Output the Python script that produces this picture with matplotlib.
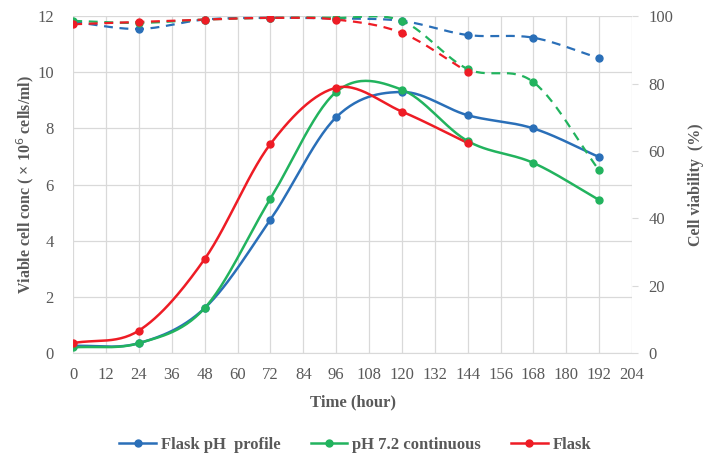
import numpy as np
import matplotlib
matplotlib.use("Agg")
import matplotlib.pyplot as plt
from matplotlib.lines import Line2D

plt.rcParams['font.family'] = ['Liberation Serif', 'DejaVu Serif']

hours = [0, 24, 48, 72, 96, 120, 144, 168, 192]
hours_flask = [0, 24, 48, 72, 96, 120, 144]

# viable cell concentration (x10^6 cells/ml)
vcc_ph_profile = [0.25, 0.35, 1.6, 4.75, 8.4, 9.3, 8.47, 8.0, 6.98]
vcc_ph72 = [0.2, 0.35, 1.6, 5.5, 9.3, 9.38, 7.55, 6.77, 5.45]
vcc_flask = [0.35, 0.8, 3.35, 7.45, 9.45, 8.6, 7.48]

# cell viability (%)
via_ph_profile = [98.3, 96.2, 99.0, 99.5, 99.3, 98.6, 94.4, 93.6, 87.5]
via_ph72 = [98.6, 98.0, 99.0, 99.5, 99.5, 98.6, 84.3, 80.4, 54.2]
via_flask = [97.6, 98.3, 99.0, 99.5, 99.0, 95.0, 83.4]

series_names = ['Flask pH  profile', 'pH 7.2 continuous', 'Flask']
colors = ['#2a6fb8', '#22b35e', '#ee1c25']


def smooth(x, y, n=30):
    # Catmull-Rom curve through the points, like the spreadsheet "smoothed line"
    p = np.column_stack([x, y]).astype(float)
    p = np.vstack([p[0] - (p[1] - p[0]), p, p[-1] + (p[-1] - p[-2])])
    out = []
    t = np.linspace(0, 1, n)[:, None]
    for i in range(1, len(p) - 2):
        p0, p1, p2, p3 = p[i - 1], p[i], p[i + 1], p[i + 2]
        m1 = (p2 - p0) / 2
        m2 = (p3 - p1) / 2
        h00 = 2 * t**3 - 3 * t**2 + 1
        h10 = t**3 - 2 * t**2 + t
        h01 = -2 * t**3 + 3 * t**2
        h11 = t**3 - t**2
        out.append(h00 * p1 + h10 * m1 + h01 * p2 + h11 * m2)
    c = np.vstack(out)
    return c[:, 0], c[:, 1]


fig = plt.figure(figsize=(7.11, 4.62), dpi=100)
ax = fig.add_axes([0.103, 0.236, 0.786, 0.729])
ax2 = ax.twinx()

tc = '#595959'
grid_c = '#d9d9d9'

for xs, vcc, via, col in [(hours, vcc_ph_profile, via_ph_profile, colors[0]),
                          (hours, vcc_ph72, via_ph72, colors[1]),
                          (hours_flask, vcc_flask, via_flask, colors[2])]:
    sx, sy = smooth(xs, vcc)
    ax.plot(sx, sy, color=col, lw=1.8, zorder=3)
    ax.plot(xs, vcc, 'o', color=col, ms=5, mec=col, zorder=4)
    sx, sy = smooth(xs, via)
    ax2.plot(sx, sy, color=col, lw=1.6, ls=(0, (4, 3)), zorder=3)
    ax2.plot(xs, via, 'o', color=col, ms=5, zorder=4)

ax.set_xlim(0, 204)
ax.set_ylim(0, 12)
ax2.set_ylim(0, 100)
ax.set_xticks(np.arange(0, 205, 12))
ax.set_yticks(np.arange(0, 13, 2))
ax2.set_yticks(np.arange(0, 101, 20))

ax.grid(True, color=grid_c, lw=0.9)
ax.set_axisbelow(True)
for a in (ax, ax2):
    for s in a.spines.values():
        s.set_visible(False)
ax.spines['bottom'].set_visible(True)
ax.spines['bottom'].set_color(grid_c)

ax.tick_params(axis='x', length=0, labelsize=12, labelcolor=tc, pad=10)
ax.tick_params(axis='y', length=0, labelsize=12, labelcolor=tc, pad=14)
ax2.tick_params(axis='y', length=4, color=grid_c, labelsize=12, labelcolor=tc, pad=8)

ax.set_xlabel('Time (hour)', fontsize=12, fontweight='bold', color=tc, labelpad=8)
ax.set_ylabel('Viable cell conc ( \u00d7 10$^6$ cells/ml)', fontsize=11.5,
              fontweight='bold', color=tc, labelpad=1)
ax2.set_ylabel('Cell viability  (%)', fontsize=11.5, fontweight='bold', color=tc,
               rotation=90, labelpad=10)

handles = [Line2D([0], [0], color=c, lw=1.8, marker='o', ms=5) for c in colors]
fig.legend(handles, series_names, loc='center', bbox_to_anchor=(0.5, 0.037),
           ncol=3, frameon=False, handlelength=2.2, handletextpad=0.3,
           columnspacing=1.8, prop={'size': 12, 'weight': 'bold'},
           labelcolor=tc)

fig.savefig('out.png', dpi=100)
